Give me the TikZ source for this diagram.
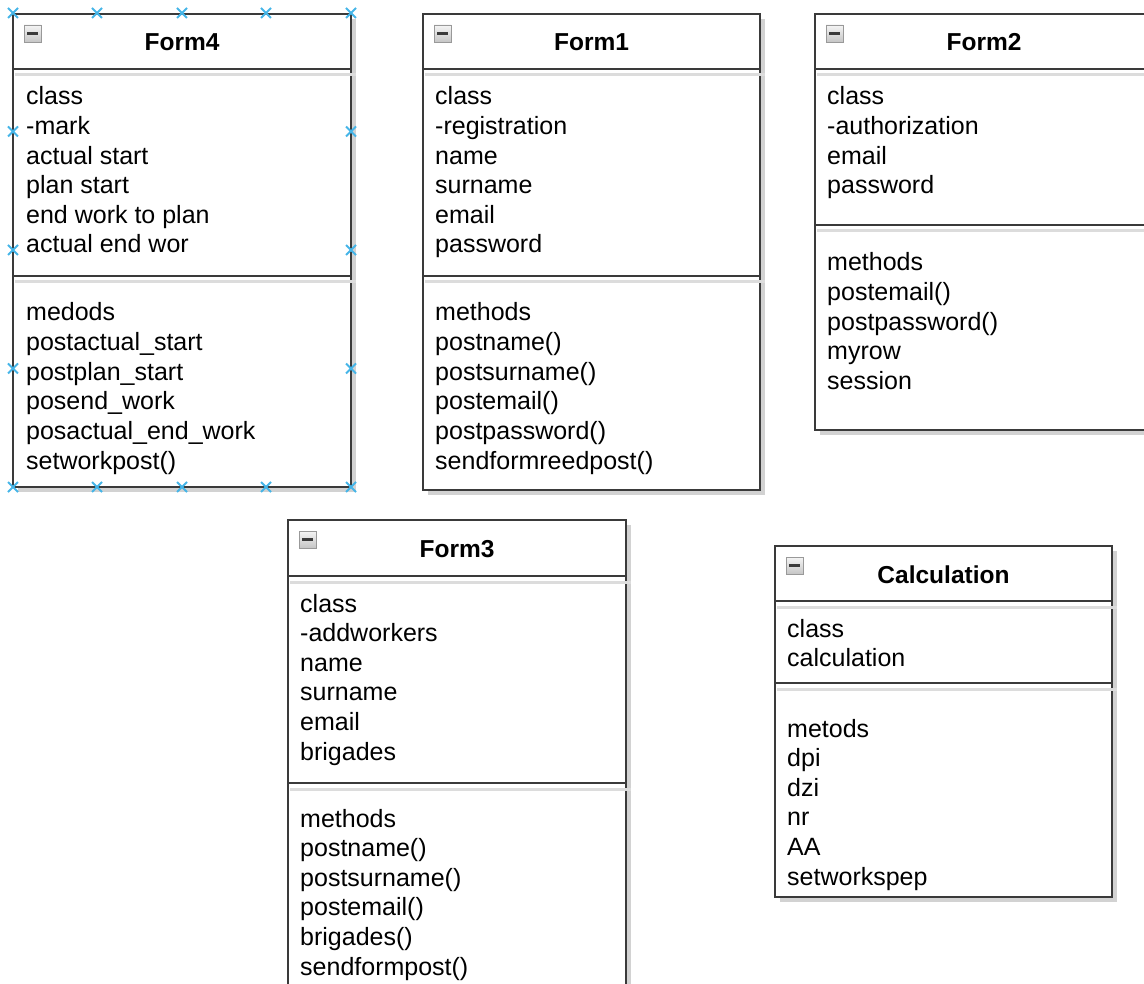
\documentclass[tikz,border=0pt]{standalone}
\usepackage{fontspec}
\setmainfont{Liberation Sans}
\definecolor{umlline}{HTML}{3A3A3A}
\definecolor{umlshadow}{HTML}{D2D2D2}
\definecolor{umlsep}{HTML}{DCDCDC}
\definecolor{handleblue}{HTML}{45B5E8}
\usetikzlibrary{positioning}

\begin{document}
\begin{tikzpicture}[x=1pt, y=-1pt,
	box/.style={draw=umlline, line width=1.6pt, fill=white},
	boxshadow/.style={fill=umlshadow},
	sepline/.style={umlline, line width=1.6pt},
	seplight/.style={umlsep, line width=3pt},
	icon/.style={draw=gray!80, line width=0.8pt, top color=gray!8, bottom color=gray!45},
	iconbar/.style={umlline, line width=2.2pt},
	title/.style={font=\fontsize{24.5}{29.6}\selectfont\bfseries, anchor=base, inner sep=0pt},
	member/.style={font=\fontsize{25}{29.6}\selectfont, anchor=base west, inner sep=0pt},
	handle/.style={handleblue, line width=2pt}]
	\useasboundingbox (0,0) rectangle (1144,984);
	\clip (0,0) rectangle (1144,984);
	% Form4
	\begin{scope}[shift={(13,14)}]
		\fill[boxshadow] (5,5) rectangle (343,478);
		\draw[box] (0,0) rectangle (338,473);
		\draw[sepline] (0,55) -- (338,55);
		\draw[seplight] (2,61) -- (343,61);
		\draw[sepline] (0,262) -- (338,262);
		\draw[seplight] (2,268) -- (343,268);
		\draw[icon] (11,11) rectangle (28,28);
		\draw[iconbar] (14,19.5) -- (25,19.5);
		\node[title] (form4) at (169,37) {Form4};
		\foreach \t [count=\i from 0] in {class,-mark,actual start,plan start,end work to plan,actual end wor}
			{\node[member] (form4a\i) at (13,91+29.6*\i) {\t};}
		\foreach \t [count=\i from 0] in {medods,postactual\_start,postplan\_start,posend\_work,posactual\_end\_work,setworkpost()}
			{\node[member] (form4m\i) at (13,307+29.6*\i) {\t};}
	\end{scope}
	% selection handles round Form4
	\foreach \x in {13,97,182,266,351}\foreach \y in {13,487}
		{\draw[handle] (\x-5,\y-5) -- (\x+5,\y+5) (\x-5,\y+5) -- (\x+5,\y-5);}
	\foreach \x in {13,351}\foreach \y in {131.5,250,368.5}
		{\draw[handle] (\x-5,\y-5) -- (\x+5,\y+5) (\x-5,\y+5) -- (\x+5,\y-5);}
	% Form1
	\begin{scope}[shift={(423,14)}]
		\fill[boxshadow] (5,5) rectangle (342,481);
		\draw[box] (0,0) rectangle (337,476);
		\draw[sepline] (0,55) -- (337,55);
		\draw[seplight] (2,61) -- (342,61);
		\draw[sepline] (0,262) -- (337,262);
		\draw[seplight] (2,268) -- (342,268);
		\draw[icon] (11,11) rectangle (28,28);
		\draw[iconbar] (14,19.5) -- (25,19.5);
		\node[title] (form1) at (168.5,37) {Form1};
		\foreach \t [count=\i from 0] in {class,-registration,name,surname,email,password}
			{\node[member] (form1a\i) at (12,91+29.6*\i) {\t};}
		\foreach \t [count=\i from 0] in {methods,postname(),postsurname(),postemail(),postpassword(),sendformreedpost()}
			{\node[member] (form1m\i) at (12,307+29.6*\i) {\t};}
	\end{scope}
	% Form2
	\begin{scope}[shift={(815,14)}]
		\fill[boxshadow] (5,5) rectangle (343,421);
		\draw[box] (0,0) rectangle (338,416);
		\draw[sepline] (0,55) -- (338,55);
		\draw[seplight] (2,61) -- (343,61);
		\draw[sepline] (0,211) -- (338,211);
		\draw[seplight] (2,217) -- (343,217);
		\draw[icon] (11,11) rectangle (28,28);
		\draw[iconbar] (14,19.5) -- (25,19.5);
		\node[title] (form2) at (169,37) {Form2};
		\foreach \t [count=\i from 0] in {class,-authorization,email,password}
			{\node[member] (form2a\i) at (12,91+29.6*\i) {\t};}
		\foreach \t [count=\i from 0] in {methods,postemail(),postpassword(),myrow,session}
			{\node[member] (form2m\i) at (12,257+29.6*\i) {\t};}
	\end{scope}
	% Form3
	\begin{scope}[shift={(288,520)}]
		\fill[boxshadow] (5,5) rectangle (343,485);
		\draw[box] (0,0) rectangle (338,480);
		\draw[sepline] (0,56) -- (338,56);
		\draw[seplight] (2,62) -- (343,62);
		\draw[sepline] (0,263) -- (338,263);
		\draw[seplight] (2,269) -- (343,269);
		\draw[icon] (11,11) rectangle (28,28);
		\draw[iconbar] (14,19.5) -- (25,19.5);
		\node[title] (form3) at (169,37) {Form3};
		\foreach \t [count=\i from 0] in {class,-addworkers,name,surname,email,brigades}
			{\node[member] (form3a\i) at (12,92+29.6*\i) {\t};}
		\foreach \t [count=\i from 0] in {methods,postname(),postsurname(),postemail(),brigades(),sendformpost()}
			{\node[member] (form3m\i) at (12,307+29.6*\i) {\t};}
	\end{scope}
	% Calculation
	\begin{scope}[shift={(775,546)}]
		\fill[boxshadow] (5,5) rectangle (342,356);
		\draw[box] (0,0) rectangle (337,351);
		\draw[sepline] (0,55) -- (337,55);
		\draw[seplight] (2,61) -- (342,61);
		\draw[sepline] (0,137) -- (337,137);
		\draw[seplight] (2,143) -- (342,143);
		\draw[icon] (11,11) rectangle (28,28);
		\draw[iconbar] (14,19.5) -- (25,19.5);
		\node[title] (calc) at (168.5,37) {Calculation};
		\foreach \t [count=\i from 0] in {class,calculation}
			{\node[member] (calca\i) at (12,91+29.6*\i) {\t};}
		\foreach \t [count=\i from 0] in {metods,dpi,dzi,nr,AA,setworkspep}
			{\node[member] (calcm\i) at (12,191+29.6*\i) {\t};}
	\end{scope}
\end{tikzpicture}
\end{document}
